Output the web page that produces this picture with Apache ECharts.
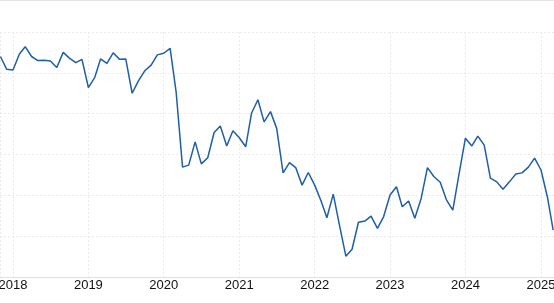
<!DOCTYPE html>
<html>
<head>
<meta charset="utf-8">
<script src="https://cdn.jsdelivr.net/npm/echarts@6/dist/echarts.min.js"></script>
<style>
  html, body { margin: 0; padding: 0; background: #fff; }
  #chart { width: 554px; height: 302px; border-top: 1px solid #e4e6ec; }
</style>
</head>
<body>
<div id="chart"></div>
<script>
// monthly readings, Nov 2017 .. Mar 2025
const months = [
  '2017-11-01', '2017-12-01',
  '2018-01-01', '2018-02-01', '2018-03-01', '2018-04-01', '2018-05-01', '2018-06-01',
  '2018-07-01', '2018-08-01', '2018-09-01', '2018-10-01', '2018-11-01', '2018-12-01',
  '2019-01-01', '2019-02-01', '2019-03-01', '2019-04-01', '2019-05-01', '2019-06-01',
  '2019-07-01', '2019-08-01', '2019-09-01', '2019-10-01', '2019-11-01', '2019-12-01',
  '2020-01-01', '2020-02-01', '2020-03-01', '2020-04-01', '2020-05-01', '2020-06-01',
  '2020-07-01', '2020-08-01', '2020-09-01', '2020-10-01', '2020-11-01', '2020-12-01',
  '2021-01-01', '2021-02-01', '2021-03-01', '2021-04-01', '2021-05-01', '2021-06-01',
  '2021-07-01', '2021-08-01', '2021-09-01', '2021-10-01', '2021-11-01', '2021-12-01',
  '2022-01-01', '2022-02-01', '2022-03-01', '2022-04-01', '2022-05-01', '2022-06-01',
  '2022-07-01', '2022-08-01', '2022-09-01', '2022-10-01', '2022-11-01', '2022-12-01',
  '2023-01-01', '2023-02-01', '2023-03-01', '2023-04-01', '2023-05-01', '2023-06-01',
  '2023-07-01', '2023-08-01', '2023-09-01', '2023-10-01', '2023-11-01', '2023-12-01',
  '2024-01-01', '2024-02-01', '2024-03-01', '2024-04-01', '2024-05-01', '2024-06-01',
  '2024-07-01', '2024-08-01', '2024-09-01', '2024-10-01', '2024-11-01', '2024-12-01',
  '2025-01-01', '2025-02-01', '2025-03-01'
];

const values = [
  54.0, 50.9,
  50.7, 54.6, 56.4, 54.0, 53.0, 53.1, 52.9, 51.3, 55.0, 53.6, 52.5, 53.3,
  46.4, 48.9, 53.4, 52.3, 54.9, 53.3, 53.4, 45.0, 48.1, 50.5, 51.9, 54.4,
  54.8, 56.0, 45.3, 26.9, 27.4, 33.1, 27.7, 29.2, 35.4, 37.0, 32.1, 35.8,
  34.1, 31.9, 40.1, 43.4, 38.0, 40.5, 36.4, 25.5, 28.0, 26.8, 22.5, 25.6,
  22.5, 18.6, 14.5, 20.3, 12.7, 5.1, 6.8, 13.4, 13.7, 14.9, 11.9, 14.8,
  20.1, 22.1, 17.2, 18.6, 14.4, 19.3, 26.8, 24.6, 23.2, 18.9, 16.4, 25.2,
  34.0, 32.1, 34.5, 32.3, 24.2, 23.3, 21.5, 23.3, 25.2, 25.5, 26.9, 29.1,
  26.2, 19.6, 11.5
];

const chart = echarts.init(document.getElementById('chart'));

const gridLine = { show: true, lineStyle: { color: '#ebebee', type: [2, 2], width: 1 } };

chart.setOption({
  animation: false,
  grid: { left: 0, right: 0, top: 31, bottom: 26, outerBoundsMode: 'none', containLabel: false },
  xAxis: {
    type: 'time',
    min: '2017-10-30',
    max: '2025-03-05',
    minInterval: 365 * 24 * 3600 * 1000,
    splitNumber: 8,
    axisLine: { show: true, lineStyle: { color: '#dedfe3', width: 1 } },
    axisTick: { show: false },
    axisLabel: {
      formatter: '{yyyy}',
      color: '#111',
      fontSize: 13,
      fontFamily: 'Liberation Sans, Arial, sans-serif',
      margin: 2,
      hideOverlap: false
    },
    splitLine: gridLine
  },
  yAxis: {
    type: 'value',
    min: 0,
    max: 60,
    interval: 10,
    axisLine: { show: false },
    axisTick: { show: false },
    axisLabel: { show: false },
    splitLine: gridLine
  },
  series: [{
    type: 'line',
    data: months.map((m, i) => [m, values[i]]),
    showSymbol: false,
    lineStyle: { color: '#1f5ea8', width: 1.5 }
  }]
});
</script>
</body>
</html>
